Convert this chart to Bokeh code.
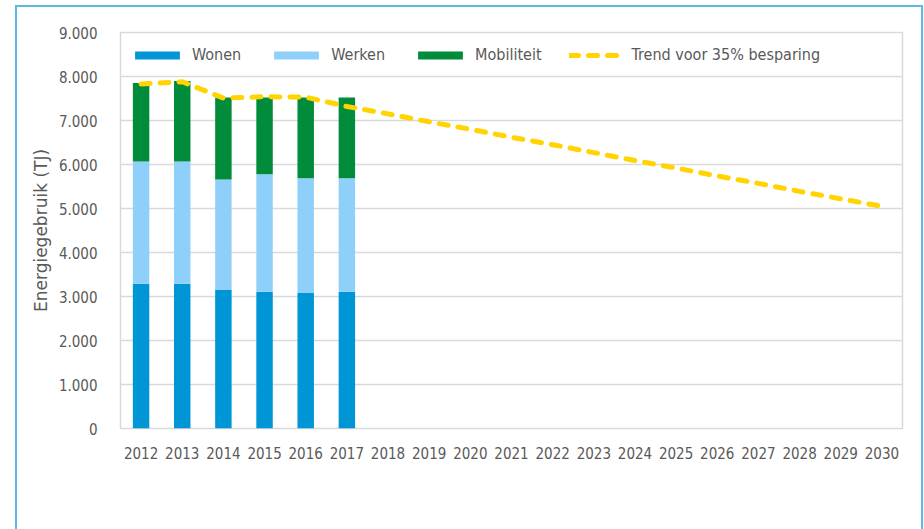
from bokeh.plotting import figure
from bokeh.models import (FactorRange, Range1d, FixedTicker, Legend, LegendItem,
                          ColumnDataSource)
from bokeh.embed import file_html
from bokeh.resources import INLINE

# ---- data ----
years = [str(y) for y in range(2012, 2031)]
bar_years = ["2012", "2013", "2014", "2015", "2016", "2017"]
wonen = [3290, 3290, 3150, 3110, 3080, 3110]
werken = [2780, 2780, 2510, 2670, 2610, 2580]
mobiliteit = [1780, 1830, 1860, 1740, 1830, 1830]
trend = [7830, 7880, 7510, 7540, 7530, 7320, 7150, 6970, 6800, 6620,
         6450, 6270, 6090, 5920, 5740, 5570, 5390, 5220, 5050]
y_ticks = [0, 1000, 2000, 3000, 4000, 5000, 6000, 7000, 8000, 9000]
y_tick_labels = ["0", "1.000", "2.000", "3.000", "4.000", "5.000",
                 "6.000", "7.000", "8.000", "9.000"]
series_names = ["Wonen", "Werken", "Mobiliteit"]
trend_name = "Trend voor 35% besparing"
y_title = "Energiegebruik (TJ)"

colors = ["#0096d6", "#8fd0fa", "#008c3a"]
trend_color = "#ffd400"
FRAME = "#5ab9e5"
FONT = "DejaVu Sans Condensed"
TXT = "#595959"

p = figure(x_range=FactorRange(factors=years), y_range=Range1d(0, 9000),
           width=924, height=529,
           output_backend="svg", toolbar_location=None,
           min_border_left=120, min_border_right=22, min_border_top=32,
           min_border_bottom=101)
p.styles = {"box-shadow": ("inset 15px 0 0 0 white, inset 0 5px 0 0 white, "
                           "inset -1px 0 0 0 white, "
                           f"inset 17px 0 0 0 {FRAME}, inset 0 7px 0 0 {FRAME}, "
                           f"inset -3px 0 0 0 {FRAME}")}
p.border_fill_alpha = 0
p.background_fill_alpha = 0

src = ColumnDataSource(dict(year=bar_years, Wonen=wonen, Werken=werken,
                            Mobiliteit=mobiliteit))
bars = p.vbar_stack(series_names, x="year", width=0.4, color=colors,
                    line_color=None, source=src)

tsrc = ColumnDataSource(dict(year=years, trend=trend))
tl = p.line(x="year", y="trend", source=tsrc, line_color=trend_color,
            line_width=5, line_dash="9 10", line_cap="round")

# axes
p.yaxis.ticker = FixedTicker(ticks=y_ticks)
p.yaxis.major_label_overrides = {t: l for t, l in zip(y_ticks, y_tick_labels)}
p.yaxis.axis_label = y_title
for ax in (p.xaxis[0], p.yaxis[0]):
    ax.major_label_text_font = FONT
    ax.major_label_text_font_size = "15px"
    ax.major_label_text_color = TXT
    ax.major_tick_line_color = None
    ax.minor_tick_line_color = None
    ax.axis_line_color = None
p.xaxis.major_label_standoff = 12
p.yaxis.major_label_standoff = 17
p.yaxis.axis_label_text_font = "DejaVu Sans"
p.yaxis.axis_label_text_font_size = "17px"
p.yaxis.axis_label_text_font_style = "normal"
p.yaxis.axis_label_text_color = TXT
p.yaxis.axis_label_standoff = 5

p.xgrid.grid_line_color = None
p.ygrid.grid_line_color = "#d9d9d9"
p.ygrid.grid_line_width = 1.5
p.outline_line_color = "#d9d9d9"
p.outline_line_width = 1.5

# legend kept inside the plot area (top band), fully visible
legend = Legend(items=[LegendItem(label=series_names[0], renderers=[bars[0]]),
                       LegendItem(label=series_names[1], renderers=[bars[1]]),
                       LegendItem(label=series_names[2], renderers=[bars[2]]),
                       LegendItem(label=trend_name, renderers=[tl])],
                location=(9, 364), orientation="horizontal",
                glyph_width=56, glyph_height=10, label_standoff=7,
                padding=0, margin=0, spacing=27,
                label_text_font=FONT, label_text_font_size="16px",
                label_text_color=TXT, border_line_alpha=0,
                background_fill_alpha=0)
p.add_layout(legend, "center")

open("out.html", "w").write(file_html(p, INLINE))
